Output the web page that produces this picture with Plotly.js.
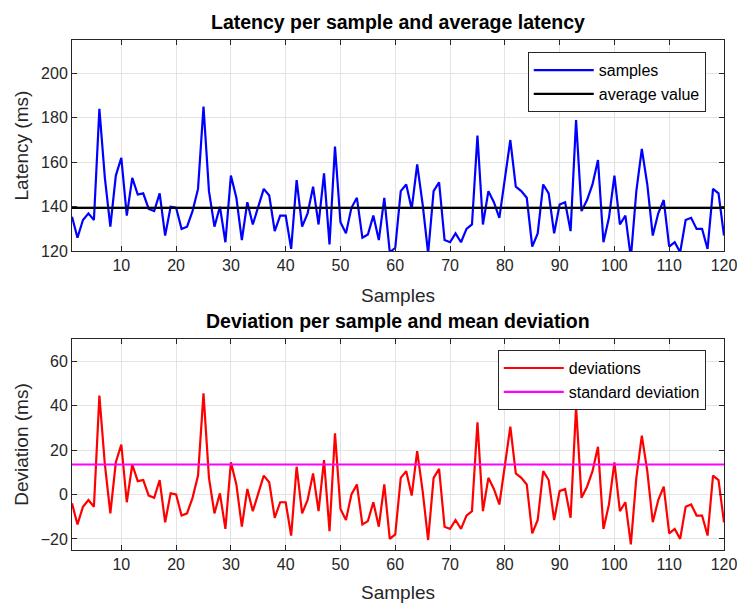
<!DOCTYPE html>
<html>
<head>
<meta charset="utf-8">
<script src="https://cdn.plot.ly/plotly-3.0.1.min.js"></script>
<style>
html,body{margin:0;padding:0;background:#fff;}
#chart{width:737px;height:603px;}
</style>
</head>
<body>
<div id="chart"></div>
<script>
// ---- data ----
const samples = [
  135.5,126,134,137,134,184,153,131,154,162,
  136,153,145.5,146,139,138,146,127,140,139.5,
  130,131,138,148,185,147,131,140,124,154,
  144,125,142,132,140,148,145,129,136,136,
  121,152,131,137,149,132,155,123,167,133,
  128,139.5,144,126,127.5,136,125,144,119.5,121.5,
  147,150,139,159,141,119,147,151,125,124,
  128,124,130,132,172,132,147,142,135,153,
  170,149,147,144,122,128,150,146,128,141,
  142,129,179,138,143,150,161,124,135,154,
  132,136,117,147,166,150,127,137,143,122,
  124,119.5,134,135,130,130,121,148,146,127
];
const deviations = [
  -4,-13.5,-5.5,-2.5,-5.5,44.5,13.5,-8.5,14.5,22.5,
  -3.5,13.5,6,6.5,-0.5,-1.5,6.5,-12.5,0.5,0,
  -9.5,-8.5,-1.5,8.5,45.5,7.5,-8.5,0.5,-15.5,14.5,
  4.5,-14.5,2.5,-7.5,0.5,8.5,5.5,-10.5,-3.5,-3.5,
  -18.5,12.5,-8.5,-2.5,9.5,-7.5,15.5,-16.5,27.5,-6.5,
  -11.5,0,4.5,-13.5,-12,-3.5,-14.5,4.5,-20,-18,
  7.5,10.5,-0.5,19.5,1.5,-20.5,7.5,11.5,-14.5,-15.5,
  -11.5,-15.5,-9.5,-7.5,32.5,-7.5,7.5,2.5,-4.5,13.5,
  30.5,9.5,7.5,4.5,-17.5,-11.5,10.5,6.5,-11.5,1.5,
  2.5,-10.5,39.5,-1.5,3.5,10.5,21.5,-15.5,-4.5,14.5,
  -7.5,-3.5,-22.5,7.5,26.5,10.5,-12.5,-2.5,3.5,-17.5,
  -15.5,-20,-5.5,-4.5,-9.5,-9.5,-18.5,8.5,6.5,-12.5
];
const sampleIndex = [];
for (let i = 1; i <= samples.length; i++) sampleIndex.push(i);
const averageValue = 139.5;
const standardDeviation = 13.5;
const xTicks = [10,20,30,40,50,60,70,80,90,100,110,120];
const latencyTicks = [120,140,160,180,200];
const deviationTicks = [-20,0,20,40,60];

const xEnds = [sampleIndex[0], sampleIndex[sampleIndex.length-1]];

const FONT = 'Liberation Sans, Arial, Helvetica, sans-serif';
const AX = '#262626';

function axisBase(extra){
  return Object.assign({
    showline:true, linecolor:AX, linewidth:1, mirror:'ticks',
    ticks:'inside', ticklen:5, tickcolor:AX, tickwidth:1,
    showgrid:true, gridcolor:'#e3e3e3', gridwidth:1,
    zeroline:false, ticklabeloverflow:'allow',
    tickfont:{family:FONT, size:16, color:AX},
  }, extra);
}

const traces = [
  {x:sampleIndex, y:samples, type:'scatter', mode:'lines', name:'samples',
   line:{color:'#0000ff', width:2.2}, xaxis:'x', yaxis:'y', legend:'legend'},
  {x:xEnds, y:[averageValue, averageValue], type:'scatter', mode:'lines', name:'average value',
   line:{color:'#000000', width:2.2}, xaxis:'x', yaxis:'y', legend:'legend'},
  {x:sampleIndex, y:deviations, type:'scatter', mode:'lines', name:'deviations',
   line:{color:'#ff0000', width:2.2}, xaxis:'x2', yaxis:'y2', legend:'legend2'},
  {x:xEnds, y:[standardDeviation, standardDeviation], type:'scatter', mode:'lines', name:'standard deviation',
   line:{color:'#ff00ff', width:2.2}, xaxis:'x2', yaxis:'y2', legend:'legend2'}
];

const legendBase = {
  bgcolor:'#ffffff', bordercolor:AX, borderwidth:1,
  font:{family:FONT, size:16, color:'#000'},
  xanchor:'left', yanchor:'top', tracegroupgap:0, itemwidth:60
};

const titleFont = {family:FONT, size:19, color:AX};

const layout = {
  width:737, height:603,
  paper_bgcolor:'#ffffff', plot_bgcolor:'#ffffff',
  margin:{l:72, r:13, t:40, b:53},
  showlegend:true,
  font:{family:FONT, color:AX},
  xaxis: axisBase({domain:[0,1], anchor:'y', range:[1,120], tickvals:xTicks,
    title:{text:'Samples', font:titleFont, standoff:15}}),
  yaxis: axisBase({domain:[0.586,1], anchor:'x', range:[120,215], tickvals:latencyTicks,
    title:{text:'Latency (ms)', font:titleFont, standoff:7}}),
  xaxis2: axisBase({domain:[0,1], anchor:'y2', range:[1,120], tickvals:xTicks,
    title:{text:'Samples', font:titleFont, standoff:14}}),
  yaxis2: axisBase({domain:[0,0.4137], anchor:'x2', range:[-25,70], tickvals:deviationTicks,
    title:{text:'Deviation (ms)', font:titleFont, standoff:7}}),
  legend: Object.assign({}, legendBase, {x:0.699, y:0.976}),
  legend2: Object.assign({}, legendBase, {x:0.653, y:0.392}),
  annotations:[
    {text:'<b>Latency per sample and average latency</b>', xref:'paper', yref:'paper',
     x:0.5, y:1, yshift:5, xanchor:'center', yanchor:'bottom', showarrow:false,
     font:{family:FONT, size:19.5, color:'#000'}},
    {text:'<b>Deviation per sample and mean deviation</b>', xref:'paper', yref:'paper',
     x:0.5, y:0.4137, yshift:5, xanchor:'center', yanchor:'bottom', showarrow:false,
     font:{family:FONT, size:19.5, color:'#000'}}
  ]
};

Plotly.newPlot('chart', traces, layout, {displayModeBar:false, staticPlot:true});
</script>
</body>
</html>
